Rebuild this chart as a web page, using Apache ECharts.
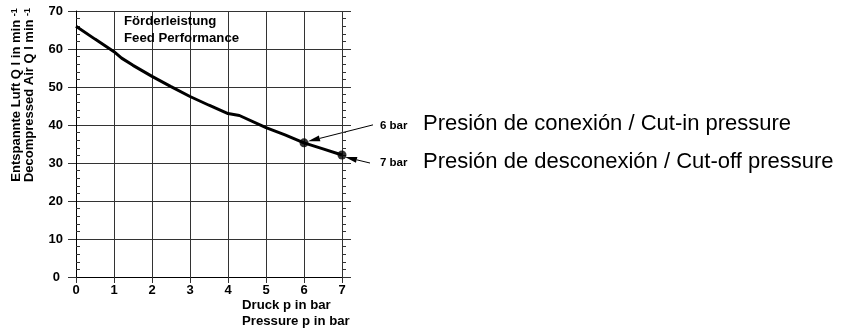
<!DOCTYPE html>
<html>
<head>
<meta charset="utf-8">
<script src="https://cdn.jsdelivr.net/npm/echarts@6/dist/echarts.min.js"></script>
<style>
  html, body { margin: 0; padding: 0; background: #fff; }
  #chart { width: 852px; height: 333px; }
</style>
</head>
<body>
<div id="chart"></div>
<script>
// values
var pressure = [0, 0.5, 1, 1.2, 1.5, 2, 2.5, 3, 3.5, 4, 4.3, 5, 5.5, 6, 6.5, 7];
var airFlow = [66, 62.6, 59.3, 57.6, 55.7, 52.8, 50.1, 47.5, 45.2, 43, 42.5, 39.3, 37.4, 35.3, 33.7, 32.1];
var switchPressure = [6, 7];
var switchLabels = ["6 bar", "7 bar"];
var switchTexts = [
  "Presión de conexión / Cut-in pressure",
  "Presión de desconexión / Cut-off pressure"
];

var FONT = "'Liberation Sans', Arial, sans-serif";

var curve = pressure.map(function (p, i) { return [p, airFlow[i]]; });
var switchPoints = switchPressure.map(function (p) {
  return [p, airFlow[pressure.indexOf(p)]];
});

var chart = echarts.init(document.getElementById("chart"));

chart.setOption({
  backgroundColor: "#fff",
  animation: false,
  grid: { left: 76, top: 11, width: 266, height: 266, containLabel: false },
  xAxis: {
    type: "value",
    min: 0,
    max: 7,
    interval: 1,
    axisLine: { lineStyle: { color: "#000", width: 1 } },
    axisTick: { length: 6, lineStyle: { color: "#333" } },
    axisLabel: { color: "#000", fontFamily: FONT, fontWeight: "bold", fontSize: 13, margin: 7 },
    splitLine: { show: true, lineStyle: { color: "#333", width: 1 } }
  },
  yAxis: [
    {
      type: "value",
      position: "left",
      min: 0,
      max: 70,
      interval: 10,
      axisLine: { show: true, lineStyle: { color: "#000", width: 1 } },
      axisTick: { length: 8, lineStyle: { color: "#333" } },
      axisLabel: {
        color: "#000", fontFamily: FONT, fontWeight: "bold", fontSize: 13, margin: 13,
        formatter: function (v) { return v === 0 ? "{z|0}" : String(v); },
        rich: { z: { fontFamily: FONT, fontWeight: "bold", fontSize: 13, color: "#000", padding: [0, 3, 0, 0] } }
      },
      splitLine: { show: true, lineStyle: { color: "#333", width: 1 } }
    },
    {
      type: "value",
      position: "left",
      min: 0,
      max: 70,
      interval: 10,
      axisLine: { show: false },
      axisTick: { show: false, inside: true },
      axisLabel: { show: false },
      splitLine: { show: false },
      minorTick: { show: true, splitNumber: 5, length: 4, lineStyle: { color: "#333" } }
    },
    {
      type: "value",
      position: "right",
      min: 0,
      max: 70,
      interval: 10,
      axisLine: { show: false },
      axisTick: { show: true, length: 9, lineStyle: { color: "#333" } },
      axisLabel: { show: false },
      splitLine: { show: false },
      minorTick: { show: true, splitNumber: 5, length: 4, lineStyle: { color: "#333" } }
    }
  ],
  series: [
    {
      type: "line",
      data: curve,
      symbol: "none",
      lineStyle: { color: "#000", width: 3 }
    },
    {
      type: "scatter",
      data: switchPoints,
      symbolSize: 9,
      itemStyle: { color: "#000" }
    }
  ]
});

function arrow(id, tail, tip) {
  var dx = tip[0] - tail[0], dy = tip[1] - tail[1];
  var len = Math.sqrt(dx * dx + dy * dy);
  var ux = dx / len, uy = dy / len;
  var L = 12, W = 3;
  var bx = tip[0] - ux * L, by = tip[1] - uy * L;
  return [
    {
      type: "line", id: id + "_l",
      shape: { x1: tail[0], y1: tail[1], x2: bx, y2: by },
      style: { stroke: "#000", lineWidth: 1 }
    },
    {
      type: "polygon", id: id + "_h",
      shape: { points: [tip, [bx - uy * W, by + ux * W], [bx + uy * W, by - ux * W]] },
      style: { fill: "#000" }
    }
  ];
}

var px = switchPoints.map(function (d) { return chart.convertToPixel({ gridIndex: 0 }, d); });

var graphics = [
  {
    type: "text", left: 124, top: 15,
    style: { text: "Förderleistung", font: "bold 13.2px " + FONT, fill: "#000" }
  },
  {
    type: "text", left: 124, top: 32,
    style: { text: "Feed Performance", font: "bold 13.2px " + FONT, fill: "#000" }
  },
  {
    type: "text", x: 23, y: 95, rotation: Math.PI / 2,
    style: {
      text: "{a|Entspannte Luft Q l in min }{s|-1}\n{a|Decompressed Air Q l min }{s|-1}",
      align: "center", verticalAlign: "middle",
      rich: {
        a: { font: "bold 13px " + FONT, fill: "#000", lineHeight: 12.5 },
        s: { font: "bold 9px " + FONT, fill: "#000", verticalAlign: "top", lineHeight: 12.5 }
      }
    }
  },
  {
    type: "text", left: 242, top: 299,
    style: { text: "Druck p in bar", font: "bold 13.2px " + FONT, fill: "#000" }
  },
  {
    type: "text", left: 242, top: 315,
    style: { text: "Pressure p in bar", font: "bold 13.2px " + FONT, fill: "#000" }
  }
];

var labelY = [126, 163];
var textY = [124, 162];
switchLabels.forEach(function (lab, i) {
  graphics.push({
    type: "text", x: 380, y: labelY[i],
    style: { text: lab, font: "bold 11.5px " + FONT, fill: "#000", verticalAlign: "middle" }
  });
  graphics.push({
    type: "text", x: 423, y: textY[i],
    style: { text: switchTexts[i], font: "22px " + FONT, fill: "#000", verticalAlign: "middle" }
  });
});

var p6 = px[0], p7 = px[1];
graphics = graphics
  .concat(arrow("a6", [p6[0] + 69, p6[1] - 18], [p6[0] + 4, p6[1] - 1.5]))
  .concat(arrow("a7", [p7[0] + 28, p7[1] + 8], [p7[0] + 3, p7[1] + 2]));

chart.setOption({ graphic: graphics });
</script>
</body>
</html>
